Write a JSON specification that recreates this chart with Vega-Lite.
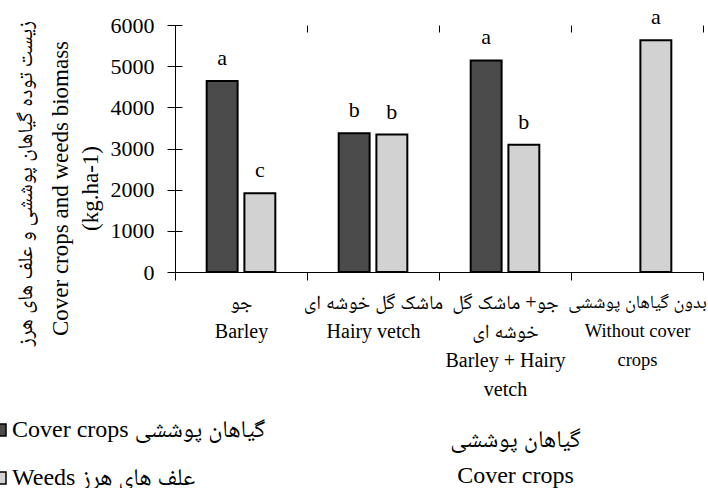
{
  "$schema": "https://vega.github.io/schema/vega-lite/v6.json",
  "width": 528,
  "height": 247,
  "autosize": {"type": "none"},
  "padding": {"left": 175, "top": 25, "right": 5, "bottom": 216},
  "config": {"font": "'Liberation Serif', 'Noto Naskh Arabic', 'Noto Sans Arabic', 'DejaVu Sans Condensed'", "view": {"stroke": null}},
  "title": {
    "text": "زیست توده گیاهان پوششی و علف های هرز",
    "orient": "left",
    "anchor": "middle",
    "fontSize": 21,
    "fontWeight": "normal",
    "color": "black",
    "offset": 6,
    "dy": 54,
    "dx": -35
  },
  "data": {
    "values": [
      {"treatment": "جو|Barley", "type": "Cover crops گیاهان پوششی", "value": 4640, "letter": "a"},
      {"treatment": "جو|Barley", "type": "Weeds علف های هرز", "value": 1910, "letter": "c"},
      {"treatment": "ماشک گل خوشه ای|Hairy vetch", "type": "Cover crops گیاهان پوششی", "value": 3370, "letter": "b"},
      {"treatment": "ماشک گل خوشه ای|Hairy vetch", "type": "Weeds علف های هرز", "value": 3340, "letter": "b"},
      {"treatment": "جو+ ماشک گل|خوشه ای|Barley + Hairy|vetch", "type": "Cover crops گیاهان پوششی", "value": 5140, "letter": "a"},
      {"treatment": "جو+ ماشک گل|خوشه ای|Barley + Hairy|vetch", "type": "Weeds علف های هرز", "value": 3090, "letter": "b"},
      {"treatment": "بدون گیاهان پوششی|Without cover|crops", "type": "Weeds علف های هرز", "value": 5630, "letter": "a"}
    ]
  },
  "encoding": {
    "x": {
      "field": "treatment",
      "type": "nominal",
      "sort": null,
      "scale": {"paddingInner": 0, "paddingOuter": 0},
      "axis": {
        "title": ["گیاهان پوششی", "Cover crops"],
        "titleFontSize": 24,
        "titleFontWeight": "normal",
        "titleColor": "black",
        "titleLineHeight": 36,
        "titleX": 340,
        "titleY": 155,
        "titleBaseline": "top",
        "titleAlign": "center",
        "labelExpr": "split(datum.label, '|')",
        "labelAngle": 0,
        "labelFontSize": {"condition": {"test": "datum.index == 1", "value": 18.5}, "value": 20},
        "labelLineHeight": 29,
        "labelPadding": 12,
        "labelColor": "black",
        "labelLimit": 0,
        "labelOverlap": false,
        "tickSize": 8,
        "tickBand": "extent",
        "tickColor": "black",
        "domainColor": "black",
        "grid": true,
        "gridDash": [7, 2000],
        "gridColor": "black",
        "gridOpacity": 1
      }
    },
    "xOffset": {
      "field": "type",
      "type": "nominal",
      "scale": {"domain": ["Cover crops گیاهان پوششی", "Weeds علف های هرز"], "paddingInner": 0.18, "paddingOuter": 0.84}
    },
    "y": {
      "field": "value",
      "type": "quantitative",
      "scale": {"domain": [0, 6000], "nice": false},
      "axis": {
        "values": [0, 1000, 2000, 3000, 4000, 5000, 6000],
        "format": "d",
        "labelFontSize": 22,
        "labelColor": "black",
        "labelPadding": 13,
        "tickSize": 8,
        "tickColor": "black",
        "domainColor": "black",
        "grid": true,
        "gridDash": [7, 2000],
        "gridColor": "black",
        "gridOpacity": 1,
        "title": ["Cover crops and weeds biomass", "(kg.ha-1)"],
        "titleFontSize": 23,
        "titleFontWeight": "normal",
        "titleColor": "black",
        "titleLineHeight": 30,
        "titleBaseline": "top",
        "titleAlign": "center",
        "titleAngle": -90,
        "titleX": -126,
        "titleY": 163
      }
    }
  },
  "layer": [
    {
      "mark": {"type": "bar", "stroke": "black", "strokeWidth": 2},
      "encoding": {
        "color": {
          "field": "type",
          "type": "nominal",
          "scale": {"domain": ["Cover crops گیاهان پوششی", "Weeds علف های هرز"], "range": ["#4b4b4b", "#d2d2d2"]},
          "legend": {
            "orient": "none",
            "legendX": -187,
            "legendY": 393,
            "title": null,
            "padding": 0,
            "labelFontSize": 24,
            "labelColor": "black",
            "labelLimit": 0,
            "labelOffset": 0,
            "rowPadding": 24,
            "symbolType": "square",
            "symbolSize": 144,
            "symbolStrokeColor": "black",
            "symbolStrokeWidth": 1.5
          }
        }
      }
    },
    {
      "mark": {"type": "text", "baseline": "alphabetic", "dy": -16, "fontSize": 22, "color": "black"},
      "encoding": {"text": {"field": "letter"}}
    }
  ]
}
